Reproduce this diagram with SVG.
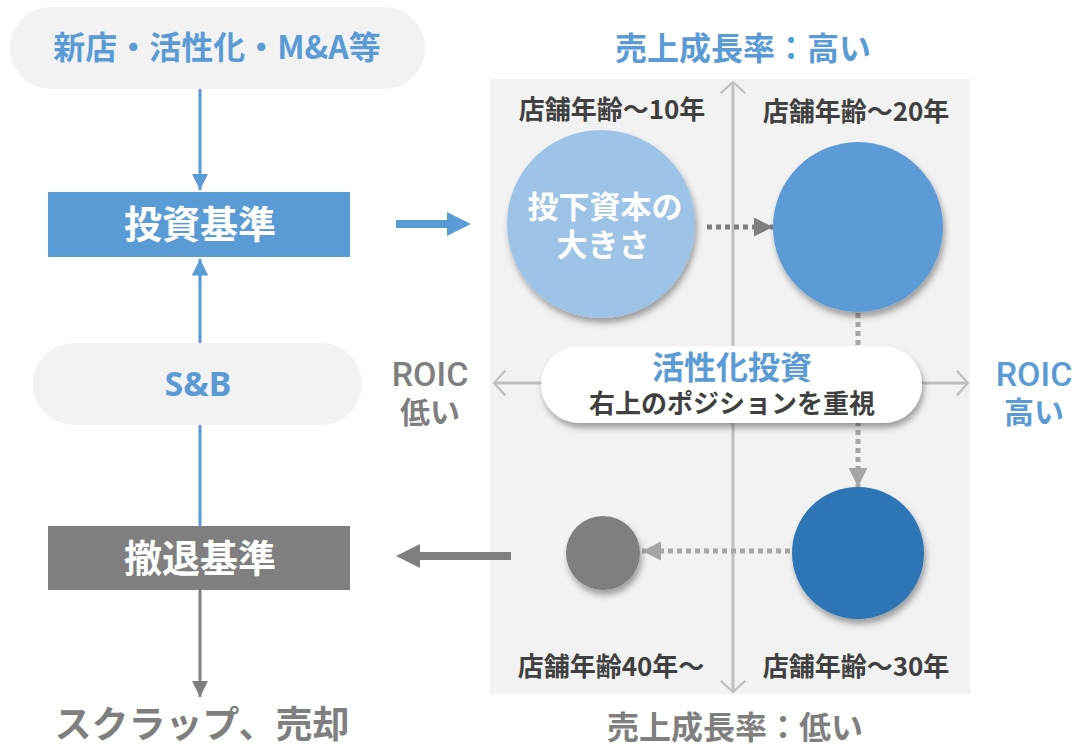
<svg xmlns="http://www.w3.org/2000/svg" width="1076" height="746" viewBox="0 0 1076 746">
<style>
text{font-family:"Noto Sans CJK JP","Noto Sans",sans-serif;font-weight:700;text-anchor:middle}
.blue{fill:#5b9bd5}
.gray{fill:#7f7f7f}
.dark{fill:#404040}
.white{fill:#ffffff}
.pill{fill:#f2f2f2}
.lbl{font-size:26px}
.roic{font-family:Roboto,"Noto Sans CJK JP",sans-serif;font-size:34px;font-weight:500}
</style>
<defs>
<filter id="sh" x="-20%" y="-20%" width="150%" height="150%">
<feDropShadow dx="2" dy="5" stdDeviation="3" flood-color="#000" flood-opacity="0.35"/>
</filter>
<marker id="ab" viewBox="0 0 10 10" refX="10" refY="5" markerWidth="5.5" markerHeight="5.5" orient="auto" markerUnits="strokeWidth"><path d="M0,0L10,5L0,10z" fill="#5b9bd5"/></marker>
<marker id="ag" viewBox="0 0 10 10" refX="10" refY="5" markerWidth="5.5" markerHeight="5.5" orient="auto" markerUnits="strokeWidth"><path d="M0,0L10,5L0,10z" fill="#7f7f7f"/></marker>
<marker id="ad" viewBox="0 0 10 10" refX="10" refY="5" markerWidth="3.8" markerHeight="3.8" orient="auto" markerUnits="strokeWidth"><path d="M0,0L10,5L0,10z" fill="#7f7f7f"/></marker>
<marker id="adl" viewBox="0 0 10 10" refX="10" refY="5" markerWidth="3.8" markerHeight="3.8" orient="auto" markerUnits="strokeWidth"><path d="M0,0L10,5L0,10z" fill="#a6a6a6"/></marker>
<marker id="ch" viewBox="0 0 12 24" refX="11" refY="12" markerWidth="4.5" markerHeight="9" orient="auto-start-reverse" markerUnits="strokeWidth"><path d="M1,1L11,12L1,23" fill="none" stroke="#bfbfbf" stroke-width="2"/></marker>
</defs>

<rect id="panel" x="490" y="79" width="480" height="615" fill="#f2f2f2"/>

<g id="axes" fill="none" stroke="#bfbfbf" stroke-width="3">
<line x1="733" y1="692" x2="733" y2="82" marker-start="url(#ch)" marker-end="url(#ch)"/>
<line x1="494" y1="383" x2="968" y2="383" marker-start="url(#ch)" marker-end="url(#ch)"/>
</g>

<g id="connectors" fill="none">
<line x1="200" y1="89" x2="200" y2="190" stroke="#5b9bd5" stroke-width="3" marker-end="url(#ab)"/>
<line x1="200" y1="343" x2="200" y2="259" stroke="#5b9bd5" stroke-width="3" marker-end="url(#ab)"/>
<line x1="200" y1="425" x2="200" y2="526" stroke="#5b9bd5" stroke-width="3"/>
<line x1="200" y1="590" x2="200" y2="697" stroke="#7f7f7f" stroke-width="3" marker-end="url(#ag)"/>
<path d="M396,224H447" stroke="#5b9bd5" stroke-width="8"/>
<path d="M447,212L471,224L447,236z" fill="#5b9bd5"/>
<path d="M511,556H420" stroke="#7f7f7f" stroke-width="8"/>
<path d="M420,544L396,556L420,568z" fill="#7f7f7f"/>
<line x1="707" y1="227" x2="773" y2="227" stroke="#7f7f7f" stroke-width="5" stroke-dasharray="5,4" marker-end="url(#ad)"/>
<line x1="858" y1="313" x2="858" y2="487" stroke="#a6a6a6" stroke-width="5" stroke-dasharray="5,4" marker-end="url(#adl)"/>
<line x1="790" y1="551" x2="642" y2="551" stroke="#a6a6a6" stroke-width="5" stroke-dasharray="5,4" marker-end="url(#adl)"/>
</g>

<g id="node-source">
<rect x="10" y="7" width="415" height="82" rx="41" class="pill"/>
<text x="217" y="59" font-size="32" class="blue">新店・活性化・M&amp;A等</text>
</g>
<g id="node-invest">
<rect x="48" y="192" width="302" height="65" fill="#5b9bd5"/>
<text x="200" y="238" font-size="38" class="white">投資基準</text>
</g>
<g id="node-sb">
<rect x="33" y="343" width="329" height="82" rx="41" class="pill"/>
<text x="198" y="396" font-size="34" class="blue" style="font-family:'Noto Sans',sans-serif">S&amp;B</text>
</g>
<g id="node-exit">
<rect x="48" y="526" width="302" height="64" fill="#7f7f7f"/>
<text x="200" y="572" font-size="38" class="white">撤退基準</text>
</g>
<g id="node-scrap">
<text x="202" y="738" font-size="37" class="gray">スクラップ、売却</text>
</g>

<g id="labels-axis">
<text x="743" y="60" font-size="32" class="blue">売上成長率：高い</text>
<text x="735" y="739" font-size="32" class="gray">売上成長率：低い</text>
<text x="430" y="386" class="roic gray">ROIC</text>
<text x="430" y="423" font-size="30" class="gray">低い</text>
<text x="1034" y="386" class="roic blue">ROIC</text>
<text x="1034" y="423" font-size="30" class="blue">高い</text>
</g>

<g id="node-age10">
<circle cx="601" cy="224" r="94" fill="#9dc3e6" filter="url(#sh)"/>
<text x="605" y="218" font-size="31" class="white">投下資本の</text>
<text x="603" y="256" font-size="31" class="white">大きさ</text>
<text x="612" y="119" class="lbl dark">店舗年齢～10年</text>
</g>
<g id="node-age20">
<circle cx="858" cy="227" r="85" fill="#5b9bd5" filter="url(#sh)"/>
<text x="856" y="121" class="lbl dark">店舗年齢～20年</text>
</g>
<g id="node-age30">
<circle cx="858" cy="553" r="66" fill="#2e75b6" filter="url(#sh)"/>
<text x="856" y="676" class="lbl dark">店舗年齢～30年</text>
</g>
<g id="node-age40">
<circle cx="603" cy="553" r="37" fill="#7f7f7f" filter="url(#sh)"/>
<text x="611" y="676" class="lbl dark">店舗年齢40年～</text>
</g>

<g id="node-center">
<rect x="541" y="346" width="381" height="77" rx="38.5" fill="#ffffff" filter="url(#sh)"/>
<text x="732" y="379" font-size="32" class="blue">活性化投資</text>
<text x="732" y="413" font-size="26" class="dark">右上のポジションを重視</text>
</g>
</svg>
